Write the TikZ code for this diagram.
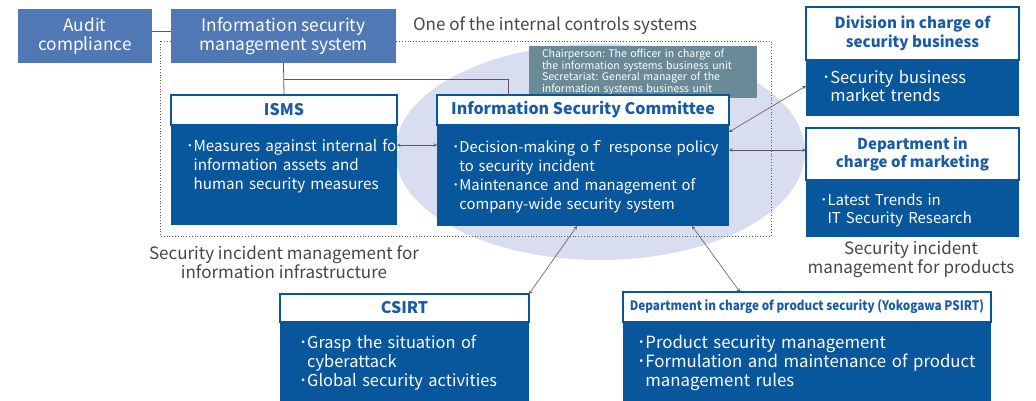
\documentclass[tikz,border=0pt]{standalone}
\usepackage{fontspec}
\setmainfont{Noto Sans CJK JP}
\usepackage{graphicx}
\usetikzlibrary{arrows,positioning,calc}
\definecolor{boxblue}{RGB}{8, 86, 156}
\definecolor{titleblue}{RGB}{25, 92, 165}
\definecolor{lightblue}{RGB}{79, 120, 181}
\definecolor{ellipsefill}{RGB}{216, 222, 239}
\definecolor{chairgray}{RGB}{105, 138, 150}
\definecolor{linegray}{RGB}{90, 90, 90}
\definecolor{textgray}{RGB}{70, 70, 70}
\newcommand{\itemline}[1]{\mbox{･#1}}
\newcommand{\contline}[1]{\mbox{\hphantom{･}#1}}
\frenchspacing

\begin{document}
\begin{tikzpicture}[
    x=1pt, y=-1pt,
    every node/.style={align=center, outer sep=0pt},
    topbox/.style={rectangle, fill=lightblue, text=white, font=\fontsize{17.3}{18.5}\selectfont, inner sep=0pt},
    headbox/.style={rectangle, draw=boxblue, line width=1.2pt, fill=white, text=titleblue, font=\fontsize{16}{18.5}\selectfont\bfseries, inner sep=0pt},
    bodybox/.style={rectangle, fill=boxblue, text=white, align=left, inner ysep=0pt},
    chairbox/.style={rectangle, fill=chairgray, text=white, align=left, inner xsep=13pt, inner ysep=0pt, font=\fontsize{10.5}{11.7}\selectfont},
    caption/.style={text=textgray, font=\fontsize{17}{17.5}\selectfont},
    conn/.style={draw=linegray, line width=0.8pt},
    bidirectional/.style={draw=linegray, line width=0.6pt, <->, >=stealth}
]
\useasboundingbox (0,0) rectangle (1036,400);

% Internal controls area
\fill[ellipsefill] (600,152) ellipse [x radius=205, y radius=108];
\draw[linegray, dotted, line width=0.8pt] (160,41) rectangle (771,236);
\node[caption] (controls) at (555,26) {One of the internal controls systems};

% Management systems
\node[topbox, minimum width=134, minimum height=54] (audit) at (85,36) {Audit\\compliance};
\node[topbox, minimum width=225, minimum height=54] (imsys) at (283.5,36) {Information security\\management system};

% ISMS
\node[headbox, minimum width=226, minimum height=30] (ismshead) at (284,110) {ISMS};
\node[bodybox, below=0pt of ismshead, inner xsep=15pt, text width=196, text height=26, text depth=74,
      font=\fontsize{15.2}{19}\selectfont] (ismsbody)
    {\itemline{Measures against internal for}\\\contline{information assets and}\\\contline{human security measures}};

% Committee
\node[chairbox, minimum width=228, minimum height=52, text width=202] (chair) at (643,72)
    {Chairperson: The officer in charge of\\the information systems business unit\\Secretariat: General manager of the\\information systems business unit};
\node[headbox, minimum width=292, minimum height=30] (comhead) at (583,110) {Information Security Committee};
\node[bodybox, below=0pt of comhead, inner xsep=15pt, text width=262, text height=27, text depth=74,
      font=\fontsize{14.8}{19}\selectfont] (combody)
    {\itemline{Decision-making oｆ response policy}\\\contline{to security incident}\\\itemline{Maintenance and management of}\\\contline{company-wide security system}};

% Product side
\node[headbox, minimum width=213, minimum height=53, font=\fontsize{15.2}{18.5}\selectfont\bfseries] (divhead) at (912.5,33.5) {Division in charge of\\security business};
\node[bodybox, below=0pt of divhead, inner xsep=16pt, text width=181, text height=23, text depth=33,
      font=\fontsize{16.5}{18}\selectfont] (divbody)
    {\itemline{Security business}\\\contline{market trends}};
\node[headbox, minimum width=213, minimum height=52, font=\fontsize{15}{18.5}\selectfont\bfseries] (mkthead) at (912.5,154) {Department in\\charge of marketing};
\node[bodybox, below=0pt of mkthead, inner xsep=14pt, text width=185, text height=25, text depth=32,
      font=\fontsize{15}{18}\selectfont] (mktbody)
    {\itemline{Latest Trends in}\\\contline{IT Security Research}};
\node[caption] (prodcap) at (911,259) {Security incident\\management for products};
\node[caption] (infracap) at (284,262) {Security incident management for\\information infrastructure};

% Incident response teams
\node[headbox, minimum width=249, minimum height=28] (csirthead) at (404.5,308) {CSIRT};
\node[bodybox, below=0pt of csirthead, inner xsep=19pt, text width=211, text height=26, text depth=56,
      font=\fontsize{16.4}{19}\selectfont] (csirtbody)
    {\itemline{Grasp the situation of}\\\contline{cyberattack}\\\itemline{Global security activities}};
\node[headbox, minimum width=368, minimum height=30, font=\fontsize{13}{15}\selectfont\bfseries] (psirthead) at (807,307)
    {\scalebox{0.9}[1]{Department in charge of product security (Yokogawa PSIRT)}};
\node[bodybox, below=0pt of psirthead, inner xsep=14pt, text width=340, text height=26, text depth=56,
      font=\fontsize{16.8}{19}\selectfont] (psirtbody)
    {\itemline{Product security management}\\\itemline{Formulation and maintenance of product}\\\contline{management rules}};

% Tree lines
\draw[conn] ([yshift=5pt]audit.east) -- ([yshift=5pt]imsys.west);
\draw[conn] (imsys.south) -- (ismshead.north);
\draw[conn] ($(imsys.south)!.5!(ismshead.north)$) -| ([xshift=-75pt]comhead.north);

% Connections
\draw[bidirectional] ([yshift=-20pt]ismsbody.north east) -- ([yshift=-20pt]combody.north west);
\draw[bidirectional] ([yshift=-7pt]combody.north east) -- ([yshift=2pt]divbody.west);
\draw[bidirectional] ([yshift=-25pt]combody.north east) -- ([yshift=4pt]mkthead.west);
\draw[bidirectional] ([xshift=-6pt]combody.south) -- (csirthead.north east);
\draw[bidirectional] ([xshift=109pt]combody.south) -- ([xshift=-67pt]psirthead.north);

\end{tikzpicture}
\end{document}
